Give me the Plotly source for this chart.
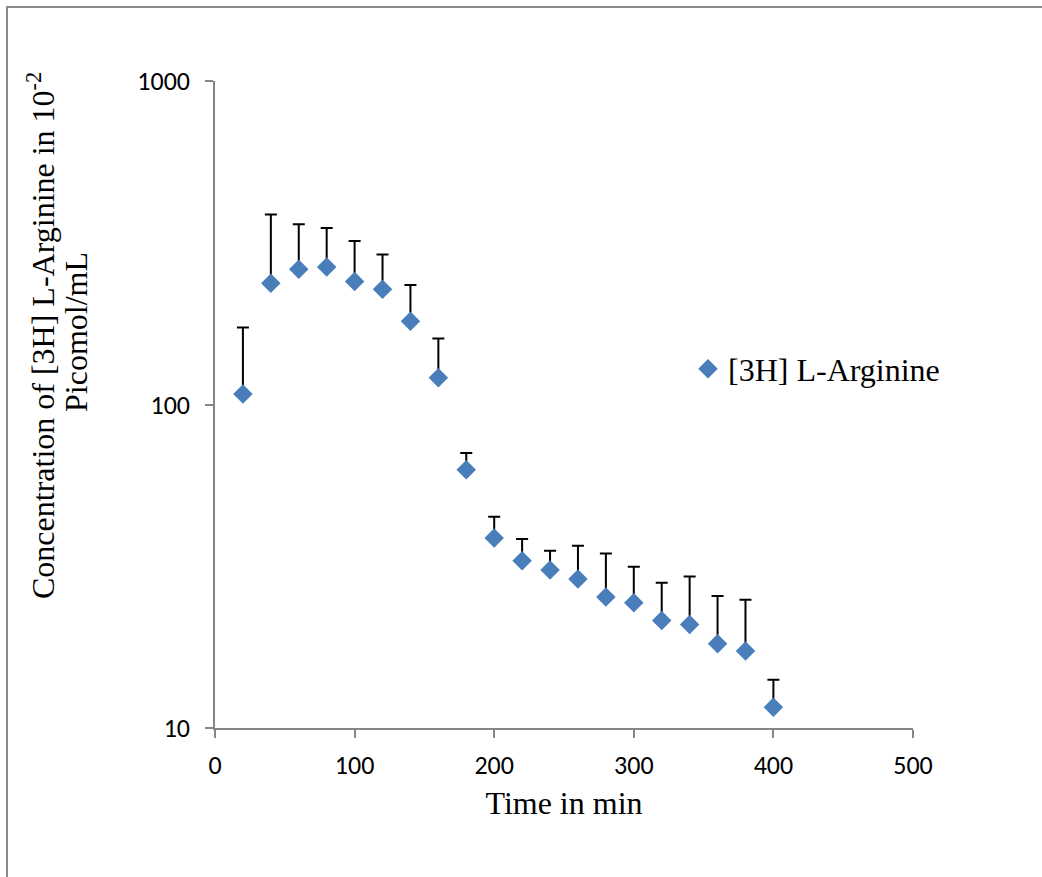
import plotly.graph_objects as go

# Data
time_min = [20, 40, 60, 80, 100, 120, 140, 160, 180, 200, 220, 240, 260, 280, 300, 320, 340, 360, 380, 400]
concentration = [107.7, 237, 262, 266, 240, 227, 181, 121, 62.8, 38.7, 32.9, 30.8, 28.9, 25.4, 24.4, 21.5, 20.9, 18.2, 17.3, 11.6]
upper_value = [173, 387, 361, 351, 320, 291, 234, 160, 70.8, 45.0, 38.4, 35.3, 36.6, 34.6, 31.5, 28.1, 29.4, 25.6, 24.9, 14.1]
err_plus = [u - c for u, c in zip(upper_value, concentration)]
err_minus = [0 for _ in concentration]

series_name = "[3H] L-Arginine"
y_title_line1 = "Concentration of [3H] L-Arginine in 10<sup>-2</sup>"
y_title_line2 = "Picomol/mL"
x_title = "Time in min"
y_ticks = [10, 100, 1000]
y_tick_labels = ["10", "100", "1000"]
x_ticks = [0, 100, 200, 300, 400, 500]

W, H = 1042, 877
L, R, T, B = 215, 129, 81, 149

serif = "Times New Roman, Liberation Serif, serif"
sans = "Calibri, Carlito, Lato, sans-serif"
axis_gray = "#868686"

fig = go.Figure()
fig.add_trace(go.Scatter(
    x=time_min, y=concentration, mode="markers", name=series_name,
    marker=dict(symbol="diamond", size=15, color="#4A7EBB", line=dict(width=0)),
    error_y=dict(type="data", symmetric=False, array=err_plus, arrayminus=err_minus,
                 color="black", thickness=2, width=6),
))

pw = W - L - R
ph = H - T - B
def px_x(p):
    return (p - L) / pw
def px_y(p):
    return (H - B - p) / ph

# outer chart-area border (left and top edges visible)
fig.add_shape(type="path", xref="paper", yref="paper",
              path=f"M {px_x(7)} {px_y(877)} L {px_x(7)} {px_y(7)} L {px_x(1042)} {px_y(7)}",
              line=dict(color="#8a8a8a", width=2))

# y-axis title, two lines
fig.add_annotation(text=y_title_line1, xref="paper", yref="paper",
                   x=px_x(41), y=px_y(336), xanchor="center", yanchor="middle",
                   textangle=-90, showarrow=False,
                   font=dict(family=serif, size=32, color="black"))
fig.add_annotation(text=y_title_line2, xref="paper", yref="paper",
                   x=px_x(76), y=px_y(332), xanchor="center", yanchor="middle",
                   textangle=-90, showarrow=False,
                   font=dict(family=serif, size=32, color="black"))

fig.update_layout(
    width=W, height=H,
    margin=dict(l=L, r=R, t=T, b=B, autoexpand=False),
    paper_bgcolor="white", plot_bgcolor="white",
    showlegend=True,
    legend=dict(x=px_x(688), y=px_y(369), xanchor="left", yanchor="middle",
                font=dict(family=serif, size=32, color="black"),
                bgcolor="rgba(0,0,0,0)"),
    xaxis=dict(
        range=[0, 500], tickvals=x_ticks, showgrid=False, zeroline=False,
        showline=True, linecolor=axis_gray, linewidth=1.5,
        ticks="outside", ticklen=8, tickcolor=axis_gray, tickwidth=1.5,
        ticklabelstandoff=5,
        tickfont=dict(family=sans, size=26, color="black"),
        title=dict(text=x_title, font=dict(family=serif, size=32, color="black"), standoff=12),
        automargin=False,
    ),
    yaxis=dict(
        type="log", range=[1, 3], tickvals=y_ticks, ticktext=y_tick_labels,
        showgrid=False, zeroline=False,
        showline=True, linecolor=axis_gray, linewidth=1.5,
        ticks="outside", ticklen=8, tickcolor=axis_gray, tickwidth=1.5,
        ticklabelstandoff=10,
        tickfont=dict(family=sans, size=26, color="black"),
        automargin=False,
    ),
)

fig.write_html("out.html")
